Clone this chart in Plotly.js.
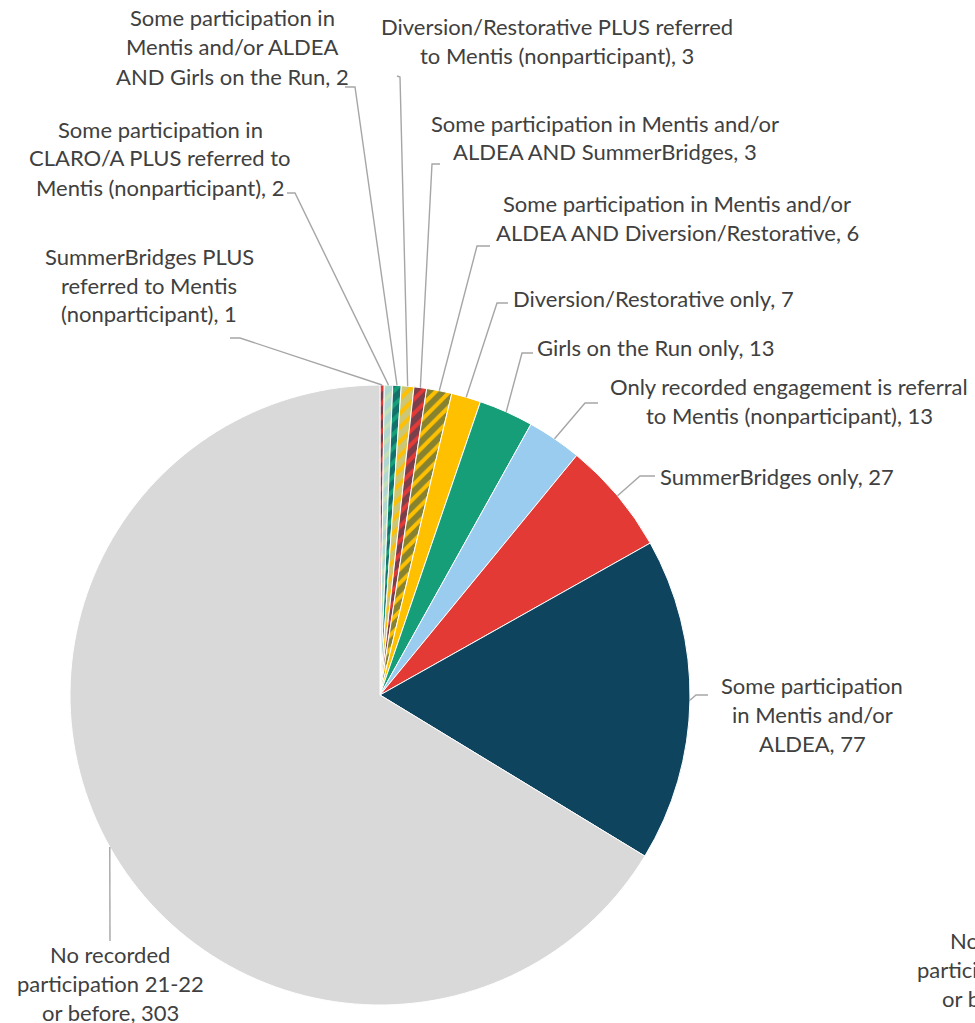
<!DOCTYPE html>
<html>
<head>
<meta charset="utf-8">
<script src="https://cdn.plot.ly/plotly-3.0.1.min.js"></script>
<style>html,body{margin:0;padding:0;background:#fff;}#chart{width:975px;height:1023px;}</style>
</head>
<body>
<div id="chart"></div>
<script>
// ---- data ----
const categories = [
  'SummerBridges PLUS referred to Mentis (nonparticipant)',
  'Some participation in CLARO/A PLUS referred to Mentis (nonparticipant)',
  'Some participation in Mentis and/or ALDEA AND Girls on the Run',
  'Diversion/Restorative PLUS referred to Mentis (nonparticipant)',
  'Some participation in Mentis and/or ALDEA AND SummerBridges',
  'Some participation in Mentis and/or ALDEA AND Diversion/Restorative',
  'Diversion/Restorative only',
  'Girls on the Run only',
  'Only recorded engagement is referral to Mentis (nonparticipant)',
  'SummerBridges only',
  'Some participation in Mentis and/or ALDEA',
  'No recorded participation 21-22 or before'
];
const counts = [1, 2, 2, 3, 3, 6, 7, 13, 13, 27, 77, 303];

// ---- styles ----
const sliceColors = ['#E43A36','#C5E0B4','#169E78','#FFC000','#E43A36','#FFC000',
                     '#FFC000','#169E78','#99CCEE','#E43A36','#0E445E','#D9D9D9'];
const stripeColors = ['#0E445E','#99CCEE','#0E445E','#99CCEE','#0E445E','#0E445E',
                      '','','','','',''];
const stripeShapes = ['/','/','/','/','/','/','','','','','',''];

// ---- layout (pixel geometry) ----
const W = 975, H = 1023;
const CX = 380, CY = 695, R = 310;
// words per wrapped line
const wrapWords = [[2,3,2],[3,4,3],[3,3,6],[3,4],[5,4],[5,4],[99],[99],[5,4],[99],[2,3,2],[2,2,3]];
// label centre x, first line centre y
const labelPos = [[149,256],[160,129],[232,18],[557,27],[605,123],[677,203],[653,299],[656,348],[789,386],[777,476],[812,685],[110,954]];
// leader: stub end (x,y), elbow (x,y)
const leaders = [[230,338,240,338],[287,193,295,193],[345,87,355,87],[397,76,400,77],[440,164,432,164],
                 [490,246,477,246],[508,303,497,303],[533,353,522,353],[598,403,585,403],[655,476,640,476],
                 [708,695,696,695],[110,941,110,941]];
const LINE_H = 29;
const FONT = {family: 'Lato, "Open Sans", sans-serif', size: 22, color: '#404040'};

const px = x => x / W;
const py = y => 1 - y / H;

function wrap(text, counts) {
  const words = text.split(' ');
  const out = []; let i = 0;
  for (const c of counts) { if (i >= words.length) break; out.push(words.slice(i, i + c).join(' ')); i += c; }
  return out;
}

const total = counts.reduce((a, b) => a + b, 0);
const annotations = [];
const shapes = [];
let cum = 0;
counts.forEach((v, i) => {
  const mid = (cum + v / 2) / total * 2 * Math.PI;
  cum += v;
  const ex = CX + R * Math.sin(mid), ey = CY - R * Math.cos(mid);
  const lines = wrap(categories[i] + ', ' + v, wrapWords[i]);
  lines.forEach((ln, k) => {
    annotations.push({x: px(labelPos[i][0]), y: py(labelPos[i][1] + k * LINE_H), xref: 'paper', yref: 'paper',
      text: ln, showarrow: false, xanchor: 'center', yanchor: 'middle', font: FONT});
  });
  const L = leaders[i];
  shapes.push({type: 'path', xref: 'paper', yref: 'paper',
    path: `M ${px(ex)} ${py(ey)} L ${px(L[2])} ${py(L[3])} L ${px(L[0])} ${py(L[1])}`,
    line: {color: '#A6A6A6', width: 1.4}});
});
// stray duplicate label at the right edge (partly cut off in the original)
const dup = wrap(categories[11] + ', ' + counts[11], wrapWords[11]);
dup.forEach((ln, k) => {
  annotations.push({x: px(1010), y: py(940 + k * LINE_H), xref: 'paper', yref: 'paper', text: ln,
    showarrow: false, xanchor: 'center', yanchor: 'middle', font: FONT});
});

const trace = {
  type: 'pie', values: counts, labels: categories, sort: false, direction: 'clockwise', rotation: 0,
  textinfo: 'none', hoverinfo: 'label+value', showlegend: false,
  domain: {x: [px(CX - R), px(CX + R)], y: [py(CY + R), py(CY - R)]},
  marker: {colors: sliceColors, line: {color: '#ffffff', width: 1},
    pattern: {shape: stripeShapes, bgcolor: sliceColors, fgcolor: stripeColors.map((c, i) => c || sliceColors[i]),
      size: 10, solidity: 0.6, fillmode: 'overlay'}}
};

Plotly.newPlot('chart', [trace], {
  width: W, height: H, margin: {l: 0, r: 0, t: 0, b: 0},
  paper_bgcolor: '#ffffff', plot_bgcolor: '#ffffff', showlegend: false,
  annotations: annotations, shapes: shapes
}, {displayModeBar: false, staticPlot: true});
</script>
</body>
</html>
